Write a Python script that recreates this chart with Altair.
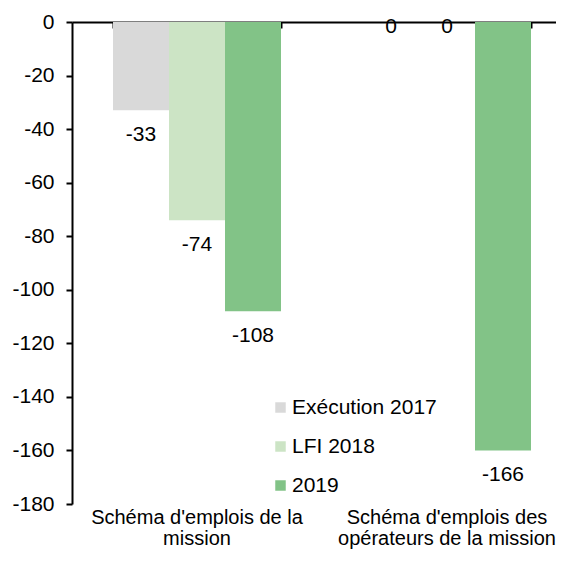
import altair as alt
import pandas as pd

categories = ["Schéma d'emplois de la mission", "Schéma d'emplois des opérateurs de la mission"]
category_lines = [["Schéma d'emplois de la", "mission"], ["Schéma d'emplois des", "opérateurs de la mission"]]
series = ["Exécution 2017", "LFI 2018", "2019"]
colors = ["#d9d9d9", "#cce4c5", "#82c387"]
values_mission = [-33, -74, -108]
values_operateurs = [0, 0, -160]
labels_mission = ["-33", "-74", "-108"]
labels_operateurs = ["0", "0", "-166"]

rows = []
for cat, vals, labs in [(categories[0], values_mission, labels_mission),
                        (categories[1], values_operateurs, labels_operateurs)]:
    for s, v, l in zip(series, vals, labs):
        rows.append({"cat": cat, "serie": s, "value": v, "label": l})
df = pd.DataFrame(rows)

FONT = "Liberation Sans"
FS = 21
H = 482

label_expr = " : ".join(
    [f'datum.value == "{c}" ? {lines!r}' for c, lines in zip(categories[:-1], category_lines[:-1])]
    + [repr(category_lines[-1])]
)

x_scale = alt.Scale(range=[0, 500], paddingInner=0.328, paddingOuter=0.164)
y_scale = alt.Scale(domain=[-180, 0], nice=False)

base = alt.Chart(df)

bars = base.mark_bar().encode(
    x=alt.X("cat:N", sort=categories, scale=x_scale, title=None,
            axis=alt.Axis(orient="bottom", domain=False, ticks=False, labelAngle=0,
                          labelExpr=label_expr, labelFont=FONT, labelFontSize=20,
                          labelColor="black", labelPadding=3, labelLineHeight=21,
                          labelBaseline="top", labelLimit=1000)),
    xOffset=alt.XOffset("serie:N", sort=series, scale=alt.Scale(paddingInner=0, paddingOuter=0)),
    y=alt.Y("value:Q", scale=y_scale, title=None,
            axis=alt.Axis(values=list(range(-180, 1, 20)), labelExpr="'' + datum.value",
                          labelFont=FONT, labelFontSize=FS, labelColor="black",
                          domainColor="black", domainWidth=2, tickColor="black",
                          tickWidth=2, tickSize=6, labelPadding=12, grid=False)),
    color=alt.Color("serie:N", sort=series, scale=alt.Scale(domain=series, range=colors),
                    legend=alt.Legend(title=None, orient="none", legendX=198, legendY=375,
                                      symbolType="square", symbolSize=110, symbolStrokeWidth=0,
                                      labelFont=FONT, labelFontSize=FS, labelColor="black",
                                      rowPadding=17, labelOffset=1)),
)

neg_labels = base.transform_filter("datum.value < 0").mark_text(
    font=FONT, fontSize=FS, color="black", dy=25, baseline="middle"
).encode(
    x=alt.X("cat:N", sort=categories, scale=x_scale, title=None,
            axis=alt.Axis(orient="bottom", offset=-H, labels=False, domain=True,
                          domainColor="black", domainWidth=2, ticks=True, tickBand="extent",
                          tickColor="black", tickWidth=2, tickSize=6, grid=False,
                          minExtent=0, maxExtent=0)),
    xOffset=alt.XOffset("serie:N", sort=series),
    y=alt.Y("value:Q", scale=y_scale),
    text="label:N",
)

zero_labels = base.transform_filter("datum.value == 0").mark_text(
    font=FONT, fontSize=FS, color="black", dy=5, baseline="middle"
).encode(
    x=alt.X("cat:N", sort=categories, scale=x_scale, axis=None),
    xOffset=alt.XOffset("serie:N", sort=series),
    y=alt.Y("value:Q", scale=y_scale),
    text="label:N",
)

chart = alt.layer(bars, neg_labels, zero_labels).resolve_axis(x="independent").properties(
    width=484, height=H,
    autosize=alt.AutoSizeParams(type="none"),
    padding={"left": 64, "top": 14, "right": 0, "bottom": 46},
).configure_view(stroke=None)

chart.save("out.html", embed_options={"renderer": "svg", "actions": False})
